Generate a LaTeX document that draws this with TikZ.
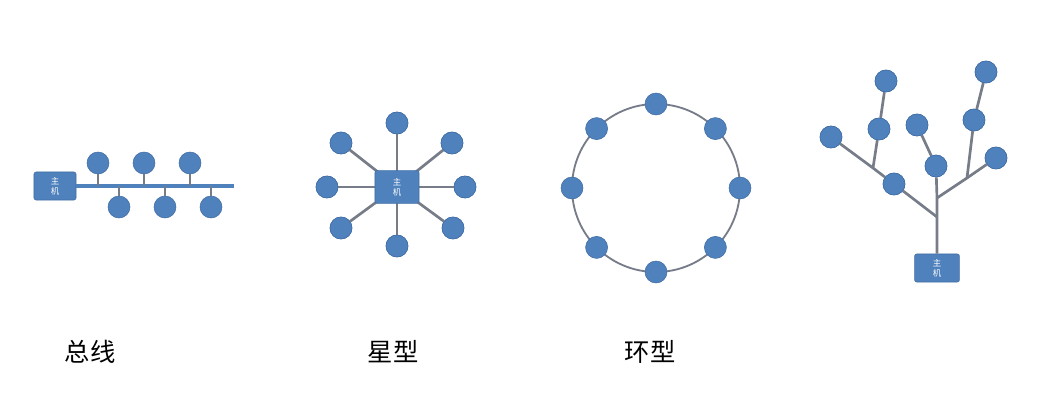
\documentclass[tikz,border=0pt]{standalone}
\usepackage{fontspec}
\newfontfamily\cjk{Noto Sans CJK SC}
\usetikzlibrary{positioning,calc}
\definecolor{nodeblue}{RGB}{79,129,189}
\definecolor{nodeedge}{RGB}{65,110,165}
\definecolor{linegray}{RGB}{118,124,136}
\begin{document}
\begin{tikzpicture}[x=0.025cm, y=-0.025cm,
  pc/.style={circle, fill=nodeblue, draw=nodeedge, line width=0.4pt, minimum size=0.55cm, inner sep=0pt},
  host/.style={rounded corners=1.5pt, fill=nodeblue, draw=nodeedge, text=white, font=\cjk\fontsize{6}{7}\selectfont, align=center, inner sep=0pt},
  wire/.style={draw=linegray, line width=1.9pt},
  label/.style={font=\cjk\fontsize{18}{21}\selectfont, text=black}]
  \fill[white] (0,0) rectangle (1042,414);
  % bus
  \node (BUSHOST) [host, minimum width=1.05cm, minimum height=0.7cm] at (55,186) {主\\机};
  \coordinate (BUSEND) at (234,186);
  \draw [draw=nodeblue, line width=2.6pt] (BUSHOST) -- (BUSEND);
  \node (B1) [pc] at (98,163) {};
  \node (B2) [pc] at (144,163) {};
  \node (B3) [pc] at (190,163) {};
  \node (B4) [pc] at (119,207) {};
  \node (B5) [pc] at (165,207) {};
  \node (B6) [pc] at (211,207) {};
  \foreach \n in {B1,B2,B3,B4,B5,B6}
    \draw [wire] (\n) -- (\n |- BUSEND);
  % star
  \coordinate (STARC) at (397,187);
  \node (S1) [pc] at (397,123) {};
  \node (S2) [pc] at (452,143) {};
  \node (S3) [pc] at (465,187) {};
  \node (S4) [pc] at (453,228) {};
  \node (S5) [pc] at (397,246) {};
  \node (S6) [pc] at (341,228) {};
  \node (S7) [pc] at (327,187) {};
  \node (S8) [pc] at (341,143) {};
  \foreach \n in {S1,S2,S3,S4,S5,S6,S7,S8}
    \draw [wire] (STARC) -- (\n);
  \foreach \n in {S1,S2,S3,S4,S5,S6,S7,S8}
    \node [pc] at (\n) {};
  \node (STARHOST) [host, minimum width=1.1cm, minimum height=0.82cm] at (STARC) {主\\机};
  % ring
  \coordinate (RINGC) at (656,188);
  \draw [draw=linegray, line width=1.3pt] (RINGC) circle (84);
  \foreach \a [count=\i] in {0,45,...,315}
    \node (R\i) [pc] at ($(RINGC)+(\a:84 and -84)$) {};
  % tree
  \node (TREEHOST) [host, minimum width=1.12cm, minimum height=0.7cm] at (937,268) {主\\机};
  \coordinate (TJ1) at (937,217);
  \coordinate (TJ2) at (937,198);
  \coordinate (TJ3) at (873,168);
  \coordinate (TJ4) at (967,178);
  \node (T1) [pc] at (831,137) {};
  \node (T2) [pc] at (894,184) {};
  \node (T3) [pc] at (879,129) {};
  \node (T4) [pc] at (886,81) {};
  \node (T5) [pc] at (936,166) {};
  \node (T6) [pc] at (917,125) {};
  \node (T7) [pc] at (996,158) {};
  \node (T8) [pc] at (974,120) {};
  \node (T9) [pc] at (986,72) {};
  \draw [wire] (TREEHOST) -- (TJ1) -- (TJ2) -- (T5) -- (T6);
  \draw [wire] (TJ1) -- (T2) -- (TJ3) -- (T1);
  \draw [wire] (TJ3) -- (T3) -- (T4);
  \draw [wire] (TJ2) -- (TJ4) -- (T7);
  \draw [wire] (TJ4) -- (T8) -- (T9);
  \foreach \n in {T1,T2,T3,T4,T5,T6,T7,T8,T9}
    \node [pc] at (\n) {};
  % labels
  \node (LBUS) [label] at (90,352) {总线};
  \node (LSTAR) [label] at (393,352) {星型};
  \node (LRING) [label] at (650,352) {环型};
\end{tikzpicture}
\end{document}
